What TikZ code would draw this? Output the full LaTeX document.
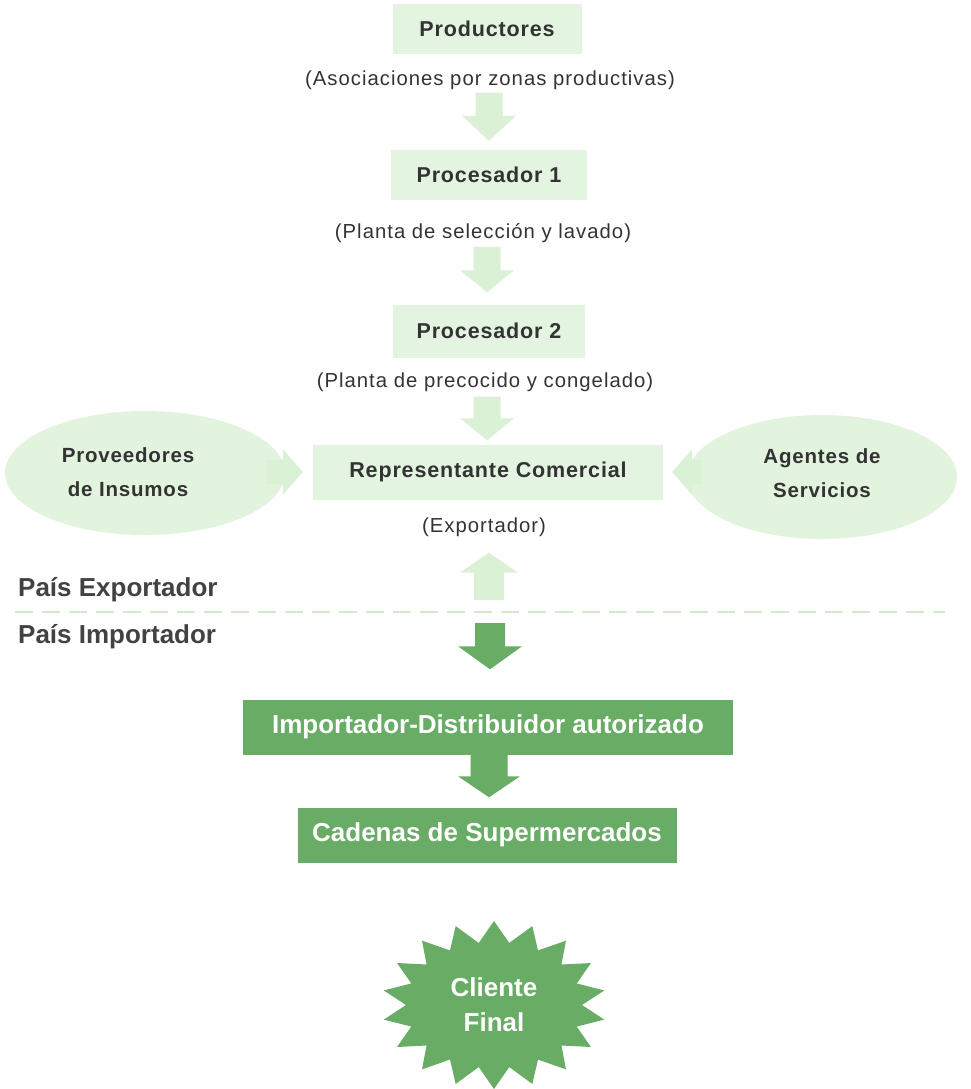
\documentclass[tikz,border=0pt]{standalone}
\usepackage{fontspec}
\setmainfont{Liberation Sans}
\newfontfamily\trackfont{Liberation Sans}[LetterSpace=4]
\newfontfamily\subfont{Liberation Sans}[LetterSpace=5]
\usetikzlibrary{calc,shapes.geometric}

\definecolor{boxg}{HTML}{E3F5E0}
\definecolor{ellg}{HTML}{E2F4DE}
\definecolor{arrg}{HTML}{DAF1D5}
\definecolor{dashg}{HTML}{CFEBCA}
\definecolor{midg}{HTML}{68AC65}
\definecolor{txt}{HTML}{333333}
\definecolor{labtxt}{HTML}{424242}

% block arrow from #1 to #2: shaft half width #3, head half width #4, head length #5, colour #6
\newcommand\blockarrow[6]{%
  \coordinate (arrbase) at ($(#2)!#5!(#1)$);
  \fill[#6] ($(#1)!#3!90:(#2)$) -- ($(arrbase)!#3!90:(#2)$) -- ($(arrbase)!#4!90:(#2)$)
    -- (#2) -- ($(arrbase)!#4!-90:(#2)$) -- ($(arrbase)!#3!-90:(#2)$)
    -- ($(#1)!#3!-90:(#2)$) -- cycle;}

\tikzset{
  lbox/.style={fill=boxg, inner sep=0pt, text=txt,
    font=\trackfont\bfseries\fontsize{21.5}{24}\selectfont},
  dbox/.style={fill=midg, inner sep=0pt, text=white,
    font=\bfseries\fontsize{26}{30}\selectfont},
  subtext/.style={text=txt, inner sep=0pt, font=\subfont\fontsize{20.3}{24}\selectfont},
  cloud/.style={ellipse, fill=ellg, inner sep=0pt},
  cloudtext/.style={text=txt, align=center, inner sep=0pt,
    font=\trackfont\bfseries\fontsize{20.5}{34}\selectfont},
  country/.style={text=labtxt, inner sep=0pt, anchor=west,
    font=\bfseries\fontsize{26}{30}\selectfont},
}

\begin{document}
\begin{tikzpicture}[x=1pt, y=-1pt]
\useasboundingbox (0,0) rectangle (971,1089);

% exporting side
\node[lbox, minimum width=189pt, minimum height=50pt] (prod) at (487,29) {Productores};
\node[subtext] (s0) at (490,80) {(Asociaciones por zonas productivas)};
\node[lbox, minimum width=196pt, minimum height=50pt] (p1) at (489,175) {Procesador 1};
\node[subtext] (s1) at (483,233) {(Planta de selección y lavado)};
\node[lbox, minimum width=192pt, minimum height=53pt] (p2) at (489,331) {Procesador 2};
\node[subtext] (s2) at (485,382) {(Planta de precocido y congelado)};
\node[lbox, minimum width=350pt, minimum height=55pt] (rep) at (488,472) {Representante Comercial};
\node[subtext] (s3) at (484,527) {(Exportador)};

\node[cloud, minimum width=280pt, minimum height=124pt] (prov) at (145,473) {};
\node[cloudtext] (provt) at (128,472) {Proveedores\\de Insumos};
\node[cloud, minimum width=270pt, minimum height=124pt] (agt) at (822,477) {};
\node[cloudtext] (agtt) at (822,473) {Agentes de\\Servicios};

\coordinate (a1s) at ($(s0.south)+(-1,3)$);
\coordinate (a1e) at ($(p1.north)+(0,-9)$);
\blockarrow{a1s}{a1e}{13.5pt}{27pt}{25pt}{arrg}
\coordinate (a2s) at ($(s1.south)+(4,4)$);
\coordinate (a2e) at ($(p2.north)+(-2,-12)$);
\blockarrow{a2s}{a2e}{13.5pt}{27pt}{22pt}{arrg}
\coordinate (a3s) at ($(s2.south)+(2,5)$);
\coordinate (a3e) at ($(rep.north)+(-1,-4)$);
\blockarrow{a3s}{a3e}{13.5pt}{27pt}{22pt}{arrg}

\coordinate (pvs) at ($(prov.east)+(-18,-1)$);
\coordinate (pve) at ($(rep.west)+(-10,0)$);
\blockarrow{pvs}{pve}{12pt}{23pt}{20pt}{arrg}
\coordinate (ags) at ($(agt.west)+(14,-5)$);
\coordinate (age) at ($(rep.east)+(9,0)$);
\blockarrow{ags}{age}{12pt}{23pt}{20pt}{arrg}

% border between the two countries
\coordinate (bl) at (15,612);
\coordinate (br) at (945,612);
\draw[dashg, line width=2pt, dash pattern=on 18pt off 9pt] (bl) -- (br);
\node[country] (exp) at (18,590) {País Exportador};
\node[country] (imp) at (18,637) {País Importador};

\coordinate (ups) at (489,600);
\coordinate (upe) at ($(s3.south)+(5,16)$);
\blockarrow{ups}{upe}{15pt}{29pt}{20pt}{arrg}

% importing side
\node[dbox, minimum width=490pt, minimum height=55pt] (dist) at (488,727) {Importador-Distribuidor autorizado};
\node[dbox, minimum width=379pt, minimum height=55pt] (cad) at (487,835) {Cadenas de Supermercados};

\coordinate (dns) at (490,623);
\coordinate (dne) at ($(dist.north)+(2,-30)$);
\blockarrow{dns}{dne}{15pt}{32pt}{23pt}{midg}
\coordinate (d2s) at ($(dist.south)+(1,-1)$);
\coordinate (d2e) at ($(cad.north)+(2,-10)$);
\blockarrow{d2s}{d2e}{18.5pt}{31pt}{21pt}{midg}

% final customer starburst
\coordinate (starc) at (494,1005);
\fill[midg, shift={(starc)}] (10:112pt and 84pt)
  \foreach \k [evaluate=\k as \rx using {isodd(\k)?88:112},
               evaluate=\k as \ry using {isodd(\k)?63:84}] in {1,...,35}
  { -- ({10+10*\k}:\rx pt and \ry pt) } -- cycle;
\node[text=white, align=center, inner sep=0pt,
  font=\bfseries\fontsize{26}{35}\selectfont] (cf) at (starc) {Cliente\\Final};
\end{tikzpicture}
\end{document}
